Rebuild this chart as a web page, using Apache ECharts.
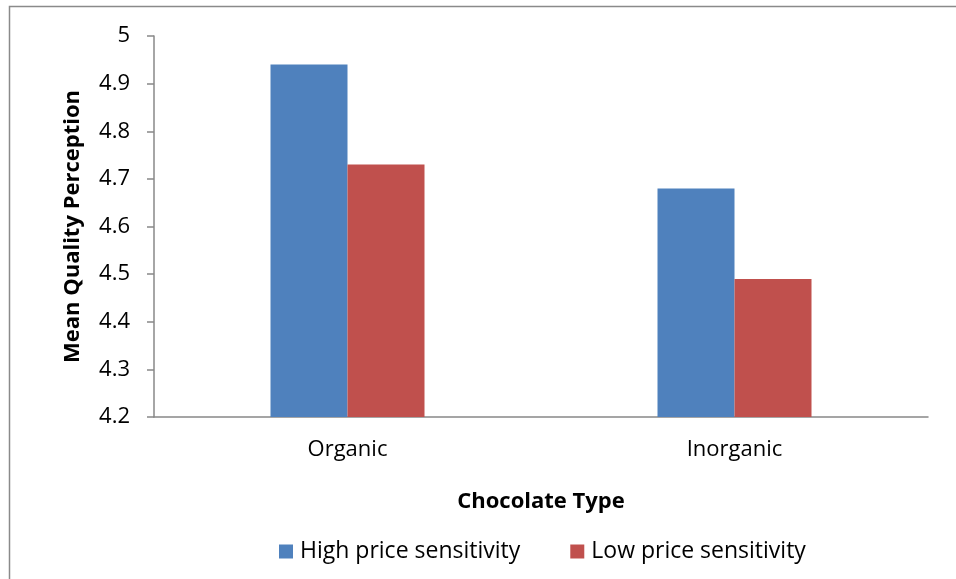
<!DOCTYPE html>
<html>
<head>
<meta charset="utf-8">
<script src="https://cdn.jsdelivr.net/npm/echarts@6/dist/echarts.min.js"></script>
<style>
  html, body { margin: 0; padding: 0; background: #fff; }
  #chart { width: 956px; height: 579px; }
</style>
</head>
<body>
<div id="chart"></div>
<script>
// Chart data
const categories = ['Organic', 'Inorganic'];
const seriesNames = ['High price sensitivity', 'Low price sensitivity'];
const highValues = [4.94, 4.68];
const lowValues = [4.73, 4.49];

const FONT = '"Open Sans", "Liberation Sans", sans-serif';
const chart = echarts.init(document.getElementById('chart'), null, { renderer: 'canvas' });

chart.setOption({
  backgroundColor: '#ffffff',
  animation: false,
  graphic: [{
    type: 'rect',
    shape: { x: 9.5, y: 6.5, width: 1000, height: 1000 },
    style: { fill: 'none', stroke: '#8a8a8a', lineWidth: 1.5 },
    silent: true
  }],
  grid: { left: 154, right: 28, top: 36, bottom: 162 },
  legend: {
    data: seriesNames,
    bottom: 11,
    left: 274,
    itemWidth: 14,
    itemHeight: 14,
    itemGap: 50,
    icon: 'rect',
    textStyle: { fontFamily: FONT, fontSize: 23, color: '#000', padding: [0, 0, 0, 2] }
  },
  xAxis: {
    type: 'category',
    data: categories,
    name: 'Chocolate Type',
    nameLocation: 'middle',
    nameGap: 74,
    nameTextStyle: { fontFamily: FONT, fontSize: 22, fontWeight: 'bold', color: '#000' },
    axisLine: { show: true, lineStyle: { color: '#888', width: 1.5 } },
    axisTick: { show: false },
    axisLabel: { fontFamily: FONT, fontSize: 22, color: '#000', margin: 22 }
  },
  yAxis: {
    type: 'value',
    min: 4.2,
    max: 5,
    interval: 0.1,
    name: 'Mean Quality Perception',
    nameLocation: 'middle',
    nameGap: 70,
    nameTextStyle: { fontFamily: FONT, fontSize: 22, fontWeight: 'bold', color: '#000' },
    axisLine: { show: true, lineStyle: { color: '#888', width: 1.5 } },
    axisTick: { show: true, length: 7, lineStyle: { color: '#888', width: 1.5 } },
    splitLine: { show: false },
    axisLabel: {
      fontFamily: FONT, fontSize: 22, color: '#000', margin: 24,
      formatter: v => String(Math.round(v * 10) / 10)
    }
  },
  series: [
    {
      name: seriesNames[0],
      type: 'bar',
      data: highValues,
      barWidth: 77,
      barGap: '0%',
      itemStyle: { color: '#4F81BD' }
    },
    {
      name: seriesNames[1],
      type: 'bar',
      data: lowValues,
      barWidth: 77,
      barGap: '0%',
      itemStyle: { color: '#C0504D' }
    }
  ]
});
</script>
</body>
</html>
